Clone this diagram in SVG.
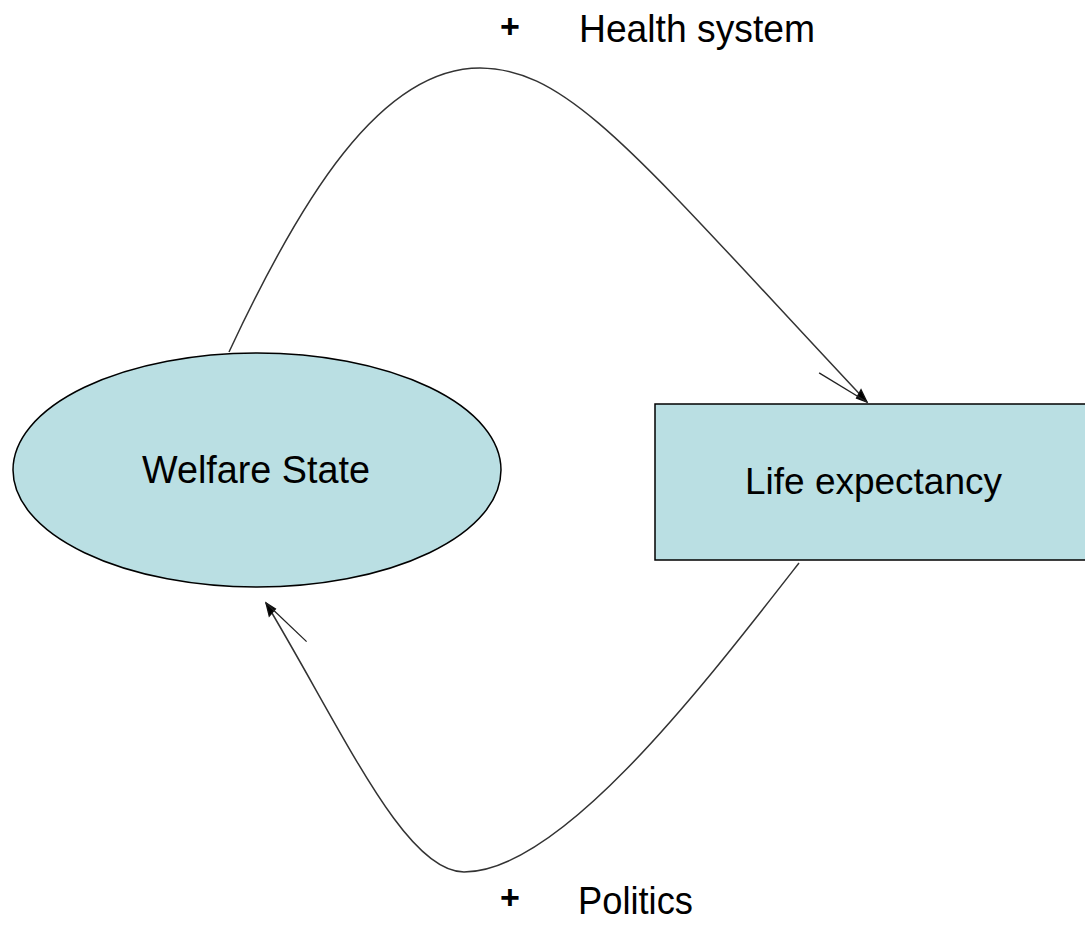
<svg xmlns="http://www.w3.org/2000/svg" width="1085" height="929" viewBox="0 0 1085 929">
  <style>
    .node { fill: #BADFE3; stroke: #000; stroke-width: 1.5; }
    .label { font-family: "Liberation Sans", Arial, sans-serif; fill: #000; }
    .sign { font-family: "Liberation Sans", Arial, sans-serif; font-weight: bold; fill: #000; }
    .link { fill: none; stroke: #333; stroke-width: 1.5; }
    .head { fill: #000; stroke: #111; stroke-width: 1.3; }
  </style>
  <defs>
    <!-- filled tip with a single trailing barb -->
    <marker id="arrow" markerUnits="userSpaceOnUse" markerWidth="80" markerHeight="40" refX="0" refY="0" orient="auto" overflow="visible">
      <path class="head" d="M0,0 L-13,-4 L-10,5 Z"/>
      <path d="M0,0 L-54,15" fill="none" stroke="#222" stroke-width="1.3"/>
    </marker>
  </defs>

  <rect width="1085" height="929" fill="#fff"/>

  <g id="connectors">
    <path id="health-system" class="link" marker-end="url(#arrow)" d="M229,352 C300,200 380,68 480,68 C570,68 640,160 867,402"/>
    <path id="politics" class="link" marker-end="url(#arrow)" d="M799,563 C700,690 560,872 464,872 C405,872 345,735 266,603"/>
  </g>

  <g id="welfare-state">
    <ellipse class="node" cx="257" cy="470" rx="244" ry="117"/>
    <text class="label" x="142" y="483" font-size="38" textLength="228" lengthAdjust="spacingAndGlyphs">Welfare State</text>
  </g>

  <g id="life-expectancy">
    <rect class="node" x="655" y="404" width="440" height="156"/>
    <text class="label" x="745" y="494" font-size="37" textLength="257" lengthAdjust="spacingAndGlyphs">Life expectancy</text>
  </g>

  <g id="label-health">
    <text class="sign" x="500" y="38" font-size="34">+</text>
    <text class="label" x="579" y="42" font-size="39" textLength="236" lengthAdjust="spacingAndGlyphs">Health system</text>
  </g>

  <g id="label-politics">
    <text class="sign" x="500" y="909" font-size="34">+</text>
    <text class="label" x="578" y="914" font-size="39" textLength="115" lengthAdjust="spacingAndGlyphs">Politics</text>
  </g>
</svg>
